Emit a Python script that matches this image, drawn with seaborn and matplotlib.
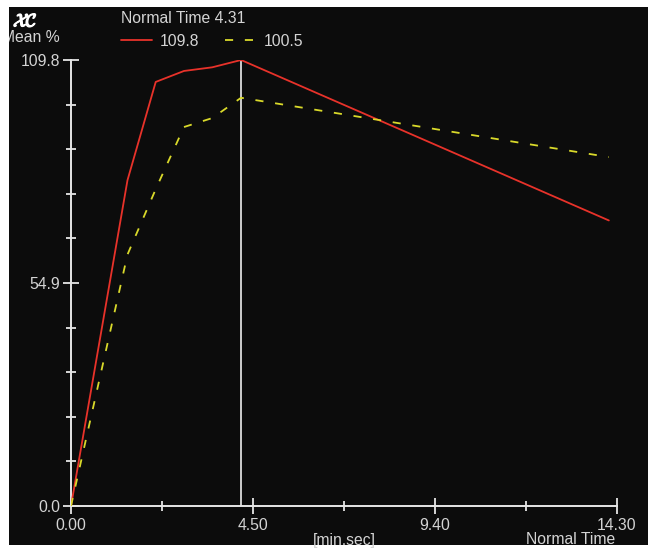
import numpy as np
import pandas as pd
import matplotlib
matplotlib.use("Agg")
import matplotlib.pyplot as plt
import matplotlib.patheffects as pe
from matplotlib.patches import Rectangle
from matplotlib.ticker import FixedLocator
import seaborn as sns

# ============================================
# Data (time in seconds, value in Mean %)
# ============================================
TIME_S = [0, 90, 135, 180, 225, 271, 857]
RED_VALUES = [0.0, 80.2, 104.4, 107.1, 108.0, 109.8, 70.3]
YELLOW_VALUES = [0.0, 61.9, 78.0, 93.3, 95.5, 100.5, 85.9]

CURSOR_S = 271
CURSOR_LABEL = "Normal Time 4.31"
X_TICKS = [0, 290, 580, 870]
X_TICK_LABELS = ["0.00", "4.50", "9.40", "14.30"]
Y_TICKS = [0.0, 54.9, 109.8]
Y_TICK_LABELS = ["0.0", "54.9", "109.8"]

# legend readouts = values under the cursor
idx = TIME_S.index(CURSOR_S)
red_name = f"{RED_VALUES[idx]:.1f}"
yellow_name = f"{YELLOW_VALUES[idx]:.1f}"

df = pd.DataFrame({
    "time": TIME_S * 2,
    "value": RED_VALUES + YELLOW_VALUES,
    "series": [red_name] * len(TIME_S) + [yellow_name] * len(TIME_S),
})

# ============================================
# Style
# ============================================
sns.set_theme(style="white")
plt.rcParams["font.family"] = ["Liberation Sans", "DejaVu Sans"]
plt.rcParams["mathtext.fontset"] = "cm"

TXT = "#d4d4d4"
FS = 11.3
W, H = 657, 549

fig = plt.figure(figsize=(W / 100, H / 100), dpi=100, facecolor="white")
panel = Rectangle((9 / W, 1 - 545 / H), (648 - 9) / W, (545 - 7) / H,
                  transform=fig.transFigure, facecolor="#0c0c0c",
                  edgecolor="none", zorder=-10)
fig.patches.append(panel)

ax = fig.add_axes([71 / W, 1 - 506 / H, 546 / W, 446 / H])
ax.set_facecolor("none")

sns.lineplot(data=df, x="time", y="value", hue="series", style="series",
             palette={red_name: "#e8322a", yellow_name: "#d9d92a"},
             dashes={red_name: "", yellow_name: (4.5, 6.5)},
             linewidth=1.3, ax=ax, legend=True, zorder=3)

ax.axvline(CURSOR_S, ymin=0, ymax=1, color="#dcdcdc", lw=1.3, zorder=2)

ax.set_xlim(0, 870)
ax.set_ylim(0, 109.8)
ax.set_xlabel("")
ax.set_ylabel("")

for s in ["top", "right"]:
    ax.spines[s].set_visible(False)
for s in ["left", "bottom"]:
    ax.spines[s].set_color("#e6e6e6")
    ax.spines[s].set_linewidth(1.4)
    ax.spines[s].set_clip_on(False)

ax.set_xticks(X_TICKS)
ax.set_xticklabels(X_TICK_LABELS)
ax.set_yticks(Y_TICKS)
ax.set_yticklabels(Y_TICK_LABELS)
ax.xaxis.set_minor_locator(FixedLocator([145, 435, 725]))
ax.yaxis.set_minor_locator(FixedLocator([10.98 * k for k in range(1, 10) if k != 5]))

ax.tick_params(which="both", bottom=True, left=True, top=False, right=False)
ax.tick_params(which="major", direction="inout", length=12, width=1.3,
               color="#e6e6e6", labelcolor=TXT, labelsize=FS)
ax.tick_params(which="minor", direction="inout", length=7, width=1.3,
               color="#e6e6e6")
ax.tick_params(axis="y", which="major", pad=1.5)
ax.tick_params(axis="x", which="major", pad=2.5)

# legend at the top
leg = ax.legend(title=CURSOR_LABEL, ncol=2, frameon=False, loc="upper left",
                bbox_to_anchor=(121 / W, 1 - 11 / H), bbox_transform=fig.transFigure,
                fontsize=FS, title_fontsize=FS, alignment="left",
                handlelength=2.0, handletextpad=0.5, columnspacing=1.6,
                borderpad=0, borderaxespad=0)
leg.get_title().set_color(TXT)
for t in leg.get_texts():
    t.set_color(TXT)

# corner labels
fig.text(13 / W, 1 - 22 / H, r"$\mathcal{XC}$", color="white", fontsize=13,
         ha="left", va="center",
         path_effects=[pe.withStroke(linewidth=1.0, foreground="white")])
mean_txt = fig.text(60 / W, 1 - 38 / H, "Mean %", color=TXT, fontsize=FS,
                    ha="right", va="center")
mean_txt.set_clip_path(panel)
fig.text(344 / W, 1 - 540 / H, "[min.sec]", color=TXT, fontsize=FS,
         ha="center", va="center")
fig.text(615 / W, 1 - 539 / H, "Normal Time", color=TXT, fontsize=FS,
         ha="right", va="center")

fig.savefig("out.png", dpi=100, facecolor="white")
